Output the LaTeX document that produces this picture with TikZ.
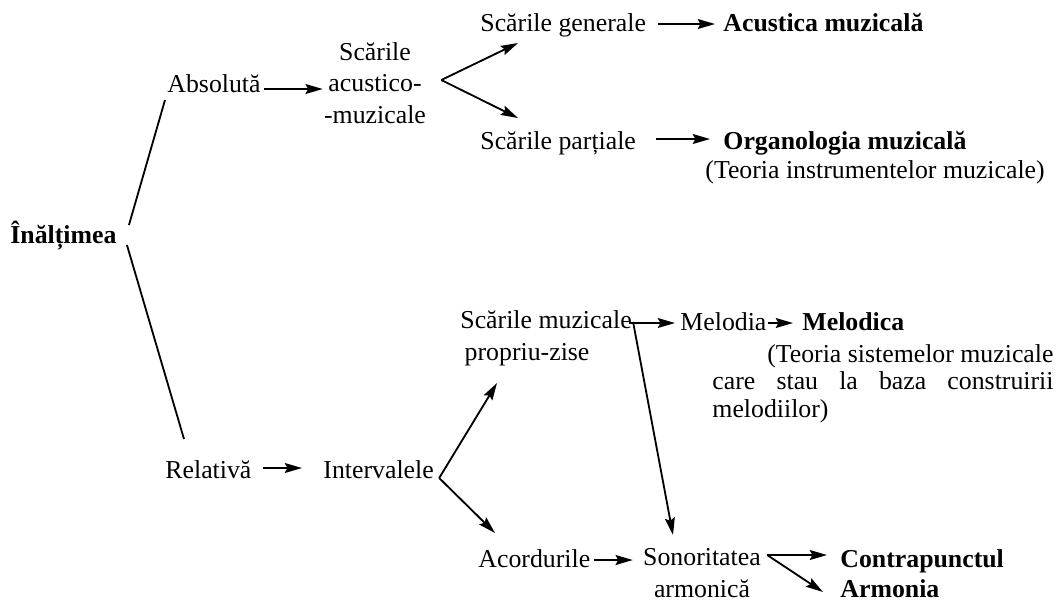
\documentclass[tikz,border=0pt]{standalone}
\usepackage{fontspec}
\setmainfont{Liberation Serif}
\usetikzlibrary{arrows.meta}

\begin{document}
\begin{tikzpicture}[x=0.465pt,y=-0.465pt,
  txt/.style={inner sep=0pt,anchor=base west,font=\fontsize{12}{14.5}\selectfont},
  bold/.style={txt,font=\fontsize{12}{14.5}\selectfont\bfseries},
  arr/.style={-{Stealth[length=8pt,width=4.6pt,inset=1.2pt]},line width=0.85pt},
  ln/.style={line width=0.85pt}]
\useasboundingbox (0,0) rectangle (1056,600);

% Root
\node[bold] (inalt) at (10,243) {Înălțimea};

% Absolute branch
\node[txt] (absol) at (167,92) {Absolută};
\node[txt,anchor=base,align=center] (scac) at (375,123) {Scările\\acustico-\\-muzicale};
\node[txt] (gen) at (480,31) {Scările generale};
\node[bold] (acust) at (723,31) {Acustica muzicală};
\node[txt] (part) at (480,149) {Scările parțiale};
\node[bold] (organ) at (723,149) {Organologia muzicală};
\node[txt] (instr) at (705,178) {(Teoria instrumentelor muzicale)};

% Relative branch
\node[txt] (rel) at (165,478) {Relativă};
\node[txt] (interv) at (323,478) {Intervalele};
\node[txt,align=left] (scmuz) at (460,360) {Scările muzicale\\\hspace*{2pt}propriu-zise};
\node[txt] (melodia) at (680,330) {Melodia};
\node[bold] (melodica) at (802,330) {Melodica};
\node[txt,text width=158.6pt,align=flush left,font=\fontsize{12}{13}\selectfont] (teoria) at (712,362)
  {\hspace*{\fill}(Teoria sistemelor muzicale\\\makebox[158.6pt][s]{care stau la baza construirii}\\melodiilor)};
\node[txt] (acord) at (478,567) {Acordurile};
\node[txt,anchor=base,align=center] (sonor) at (702,597) {Sonoritatea\\armonică};
\node[bold] (contra) at (840,567) {Contrapunctul};
\node[bold] (armonia) at (840,597) {Armonia};

% Fork points
\coordinate (fk1) at ([shift={(15,-43)}]scac.base east);
\coordinate (fk2) at ([shift={(5,0)}]interv.base east);
\coordinate (fk3) at ([shift={(6,-42)}]sonor.base east);

% Root lines
\draw[ln] ([shift={(12,-18)}]inalt.base east) -- ([shift={(-2,8)}]absol.base west);
\draw[ln] ([shift={(10,2)}]inalt.base east) -- ([shift={(19,-39)}]rel.base west);

% Arrows, upper part
\draw[arr] ([shift={(3,-3)}]absol.base east) -- ([shift={(-1,-34)}]scac.base west);
\draw[arr] (fk1) -- ([shift={(38,12)}]gen.base west);
\draw[arr] (fk1) -- ([shift={(38,-31)}]part.base west);
\draw[arr] ([shift={(12,-7)}]gen.base east) -- ([shift={(-8,-7)}]acust.base west);
\draw[arr] ([shift={(20,-10)}]part.base east) -- ([shift={(-13,-10)}]organ.base west);

% Arrows, lower part
\draw[arr] ([shift={(11,-10)}]rel.base east) -- ([shift={(-21,-10)}]interv.base west);
\draw[arr] (fk2) -- ([shift={(37,23)}]scmuz.base west);
\draw[arr] (fk2) -- ([shift={(17,-34)}]acord.base west);
\draw[arr] ([shift={(-3,-37)}]scmuz.base east) -- ([shift={(-5,-37)}]melodia.base west |- scmuz.base east);
\draw[arr] ([shift={(1,-38)}]scmuz.base east) -- ([shift={(-29,-62)}]sonor.base);
\draw[arr] ([shift={(1,-7)}]melodia.base east) -- ([shift={(-9,-7)}]melodica.base west);
\draw[arr] ([shift={(3,-7)}]acord.base east) -- ([shift={(-10,-37)}]sonor.base west);
\draw[arr] (fk3) -- ([shift={(-13,-12)}]contra.base west);
\draw[arr] (fk3) -- ([shift={(-17,-5)}]armonia.base west);

\end{tikzpicture}
\end{document}
